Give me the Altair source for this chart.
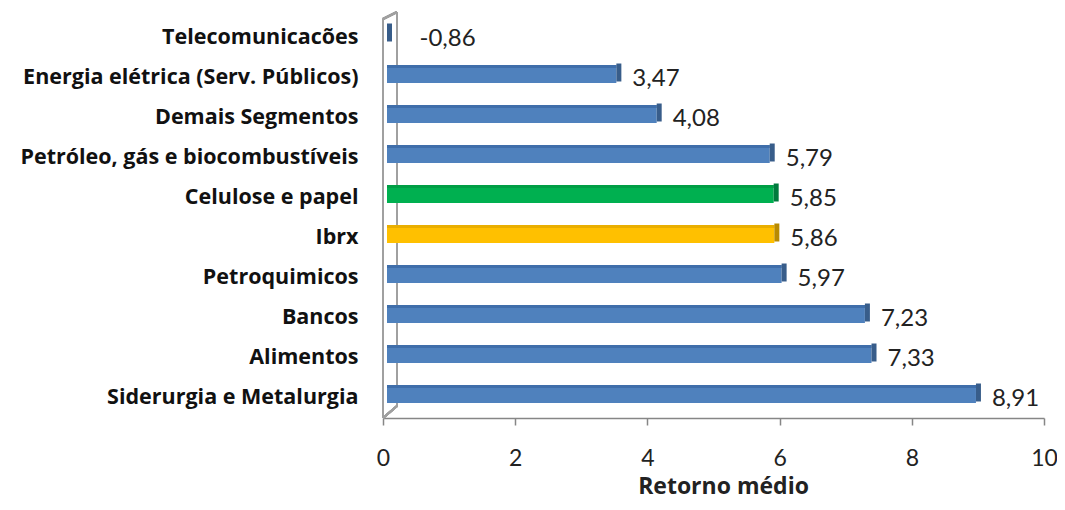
import altair as alt
import pandas as pd

categories = [
    "Telecomunicacões",
    "Energia elétrica (Serv. Públicos)",
    "Demais Segmentos",
    "Petróleo, gás e biocombustíveis",
    "Celulose e papel",
    "Ibrx",
    "Petroquimicos",
    "Bancos",
    "Alimentos",
    "Siderurgia e Metalurgia",
]
values = [-0.86, 3.47, 4.08, 5.79, 5.85, 5.86, 5.97, 7.23, 7.33, 8.91]
groups = ["Setor", "Setor", "Setor", "Setor", "Celulose", "Ibrx", "Setor", "Setor", "Setor", "Setor"]
x_ticks = [0, 2, 4, 6, 8, 10]

group_domain = ["Setor", "Celulose", "Ibrx"]
front_colors = ["#4F81BD", "#00B050", "#FFC000"]
top_colors = ["#3F6EAA", "#009E45", "#E9AE00"]
side_colors = ["#385D8A", "#007A3D", "#B88A00"]

df = pd.DataFrame({"cat": categories, "v": values, "g": groups})

FONT = "Lato"
LABEL_FONT = "Open Sans"
W, H = 661, 400
DX, DY = 4, 4  # 3-D depth shift of the bars


def xs(shift=0.0):
    return alt.Scale(domain=[0, 10], clamp=True, nice=False, range=[shift, W + shift])


def ys(shift=0.0, pi=0.55, po=0.275):
    return alt.Scale(domain=categories, paddingInner=pi, paddingOuter=po, range=[shift, H + shift])


base = alt.Chart(df)

# invisible layer that carries the axes
axis_layer = base.mark_bar(opacity=0).encode(
    x=alt.X(
        "v:Q",
        scale=xs(),
        title="Retorno médio",
        axis=alt.Axis(
            values=x_ticks,
            format="d",
            grid=False,
            labelFlush=False,
            domainColor="#868686",
            domainWidth=1.5,
            tickColor="#868686",
            tickWidth=1.5,
            tickSize=7,
            labelFont=FONT,
            labelFontSize=23,
            labelColor="#222222",
            labelPadding=22,
            titleFont=LABEL_FONT,
            titleFontSize=23,
            titleFontWeight="bold",
            titleColor="#222222",
            titlePadding=5,
            titleX=340,
        ),
    ),
    y=alt.Y(
        "cat:N",
        scale=ys(),
        sort=categories,
        title=None,
        axis=alt.Axis(
            ticks=False,
            domain=False,
            labelFont=LABEL_FONT,
            labelFontSize=21.5,
            labelFontWeight="bold",
            labelColor="#111111",
            labelPadding=25,
            labelLimit=400,
        ),
    ),
)

bars = base.mark_bar().encode(
    x=alt.X("v:Q", scale=xs(DX), axis=None),
    x2=alt.X2Datum(0),
    y=alt.Y("cat:N", scale=ys(-DY), sort=categories, axis=None),
    color=alt.Color("g:N", scale=alt.Scale(domain=group_domain, range=front_colors), legend=None),
)

# thin top face of each bar (3px band at the top of the bar)
tops = base.mark_bar().encode(
    x=alt.X("v:Q", scale=xs(DX), axis=None),
    x2=alt.X2Datum(0),
    y=alt.Y("cat:N", scale=ys(-DY - 7.5, pi=0.925, po=0.4625), sort=categories, axis=None),
    color=alt.Color("g:N", scale=alt.Scale(domain=group_domain, range=top_colors), legend=None),
)

# dark side face at the end of each bar
sides = base.mark_tick(thickness=5, size=18, opacity=1).encode(
    x=alt.X("v:Q", scale=xs(DX + 2.5), axis=None),
    y=alt.Y("cat:N", scale=ys(-DY - 1.5), sort=categories, axis=None),
    color=alt.Color("g:N", scale=alt.Scale(domain=group_domain, range=side_colors), legend=None),
)

labels = base.transform_calculate(
    lx="max(datum.v, 0.25)",
    txt="replace(replace(format(datum.v, '.2f'), '.', ','), '\u2212', '-')",
).mark_text(align="left", baseline="middle", dx=20, dy=1, font=FONT, fontSize=24, color="#222222").encode(
    x=alt.X("lx:Q", scale=xs(), axis=None),
    y=alt.Y("cat:N", scale=ys(), sort=categories, axis=None),
    text="txt:N",
)

wall_color = "#A0A0A0"
front_line = alt.Chart(df).mark_rule(color=wall_color, strokeWidth=2).encode(
    x=alt.XDatum(0, scale=xs(), axis=None), y=alt.value(1), y2=alt.value(H)
)
back_line = alt.Chart(df).mark_rule(color=wall_color, strokeWidth=2).encode(
    x=alt.XDatum(0, scale=xs(14), axis=None), y=alt.value(-6), y2=alt.value(H - 12)
)
top_slant = alt.Chart(df).mark_rule(color=wall_color, strokeWidth=2).encode(
    x=alt.value(0), x2=alt.value(14), y=alt.value(1), y2=alt.value(-6)
)
bottom_slant = alt.Chart(df).mark_rule(color=wall_color, strokeWidth=2).encode(
    x=alt.value(0), x2=alt.value(14), y=alt.value(H), y2=alt.value(H - 12)
)

chart = (
    alt.layer(axis_layer, front_line, back_line, top_slant, bottom_slant, bars, tops, sides, labels)
    .resolve_scale(x="independent", y="independent", color="independent")
    .properties(
        width=W,
        height=H,
        autosize=alt.AutoSizeParams(type="none"),
        padding={"left": 375, "top": 10, "right": 13, "bottom": 84},
        background="white",
    )
    .configure_view(stroke=None)
)

chart.save("out.html", embed_options={"renderer": "svg", "actions": False})
